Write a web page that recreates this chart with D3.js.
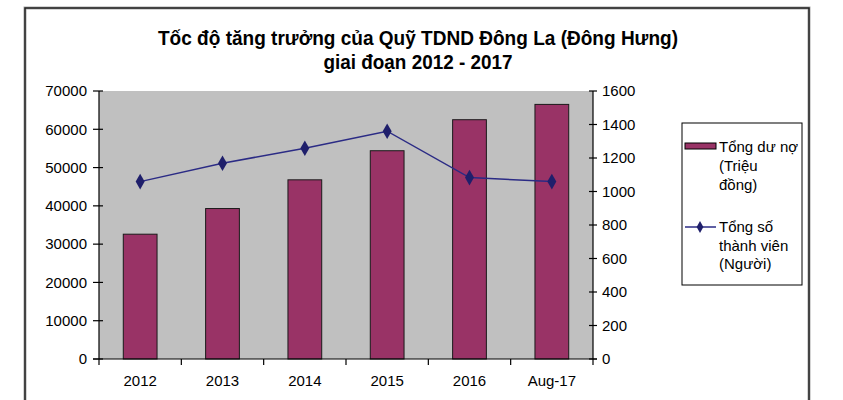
<!DOCTYPE html>
<html><head><meta charset="utf-8">
<script src="https://cdn.jsdelivr.net/npm/d3@7"></script>
<style>body{margin:0;background:#fff}svg{display:block}text{font-family:"Liberation Sans",Arial,sans-serif}</style>
</head><body><svg id="c" width="843" height="400"></svg>
<script>
const categories = ["2012","2013","2014","2015","2016","Aug-17"];
const loanValues = [32600, 39300, 46800, 54400, 62500, 66500];
const memberValues = [1059, 1169, 1258, 1360, 1083, 1059];
const leftTicks = [0,10000,20000,30000,40000,50000,60000,70000];
const rightTicks = [0,200,400,600,800,1000,1200,1400,1600];
const titleLines = ["Tốc độ tăng trưởng của Quỹ TDND Đông La (Đông Hưng)","giai đoạn 2012 - 2017"];
const legendLoan = ["Tổng dư nợ","(Triệu","đồng)"];
const legendMember = ["Tổng số","thành viên","(Người)"];

const svg = d3.select("#c");
// outer frame
svg.append("rect").attr("x",25).attr("y",8).attr("width",784).attr("height",400)
  .attr("fill","none").attr("stroke","#aaa").attr("stroke-width",3);
svg.append("rect").attr("x",25).attr("y",8).attr("width",784).attr("height",400)
  .attr("fill","none").attr("stroke","#222").attr("stroke-width",1.5);

const L=99, R=593, T=91, B=359;
const x = d3.scaleBand().domain(categories).range([L,R]);
const yL = d3.scaleLinear().domain([0,70000]).range([B,T]);
const yR = d3.scaleLinear().domain([0,1600]).range([B,T]);

svg.append("rect").attr("x",L).attr("y",T).attr("width",R-L).attr("height",B-T).attr("fill","#C0C0C0");

// bars
const bw = x.bandwidth()*0.41;
svg.selectAll(".bar").data(categories).enter().append("rect")
  .attr("x",d=>x(d)+x.bandwidth()/2-bw/2).attr("width",bw)
  .attr("y",(d,i)=>yL(loanValues[i])).attr("height",(d,i)=>B-yL(loanValues[i]))
  .attr("fill","#993366").attr("stroke","#1a1a1a").attr("stroke-width",1);

// axes
const ax = svg.append("g").attr("stroke","#000").attr("stroke-width",1.2);
ax.append("line").attr("x1",L).attr("x2",L).attr("y1",T).attr("y2",B);
ax.append("line").attr("x1",R).attr("x2",R).attr("y1",T).attr("y2",B);
ax.append("line").attr("x1",L-6).attr("x2",R+4).attr("y1",B).attr("y2",B);
leftTicks.forEach(t=>ax.append("line").attr("x1",L-6).attr("x2",L+4).attr("y1",yL(t)).attr("y2",yL(t)));
rightTicks.forEach(t=>ax.append("line").attr("x1",R-4).attr("x2",R+4).attr("y1",yR(t)).attr("y2",yR(t)));
categories.forEach((c,i)=>{ax.append("line").attr("x1",x(c)).attr("x2",x(c)).attr("y1",B).attr("y2",B+6);});
ax.append("line").attr("x1",R).attr("x2",R).attr("y1",B).attr("y2",B+6);

svg.selectAll(".lt").data(leftTicks).enter().append("text")
  .attr("x",L-12).attr("y",d=>yL(d)).attr("dy","0.35em").attr("text-anchor","end")
  .attr("font-size",15).text(d=>d);
svg.selectAll(".rt").data(rightTicks).enter().append("text")
  .attr("x",R+9).attr("y",d=>yR(d)).attr("dy","0.35em").attr("text-anchor","start")
  .attr("font-size",15).text(d=>d);
svg.selectAll(".xt").data(categories).enter().append("text")
  .attr("x",d=>x(d)+x.bandwidth()/2).attr("y",386).attr("text-anchor","middle")
  .attr("font-size",15).text(d=>d);

// line
const line = d3.line().x((d,i)=>x(categories[i])+x.bandwidth()/2).y(d=>yR(d));
svg.append("path").datum(memberValues).attr("d",line).attr("fill","none")
  .attr("stroke","#2B2B85").attr("stroke-width",1.5);
const diamond = d3.symbol().type(d3.symbolDiamond).size(70);
svg.selectAll(".mk").data(memberValues).enter().append("path")
  .attr("d",diamond).attr("transform",(d,i)=>`translate(${x(categories[i])+x.bandwidth()/2},${yR(d)})`)
  .attr("fill","#1F1F6B");

// title
const titleLens = [520, 189];
svg.selectAll(".ti").data(titleLines).enter().append("text")
  .attr("x",418).attr("y",(d,i)=>45+i*24).attr("text-anchor","middle")
  .attr("font-size",19.5).attr("font-weight","bold")
  .attr("textLength",(d,i)=>titleLens[i]).attr("lengthAdjust","spacingAndGlyphs").text(d=>d);

// legend
svg.append("rect").attr("x",682).attr("y",123).attr("width",120).attr("height",162)
  .attr("fill","#fff").attr("stroke","#000").attr("stroke-width",1);
svg.append("rect").attr("x",685).attr("y",143).attr("width",31).attr("height",6)
  .attr("fill","#993366").attr("stroke","#000").attr("stroke-width",1);
legendLoan.forEach((t,i)=>svg.append("text").attr("x",719).attr("y",147+i*19).attr("dy","0.35em").attr("font-size",15).text(t));
svg.append("line").attr("x1",685).attr("x2",716).attr("y1",227).attr("y2",227).attr("stroke","#2B2B85").attr("stroke-width",1.5);
svg.append("path").attr("d",d3.symbol().type(d3.symbolDiamond).size(40)).attr("transform","translate(700,227)").attr("fill","#1F1F6B");
legendMember.forEach((t,i)=>svg.append("text").attr("x",719).attr("y",227+i*18.5).attr("dy","0.35em").attr("font-size",15).text(t));
</script></body></html>
